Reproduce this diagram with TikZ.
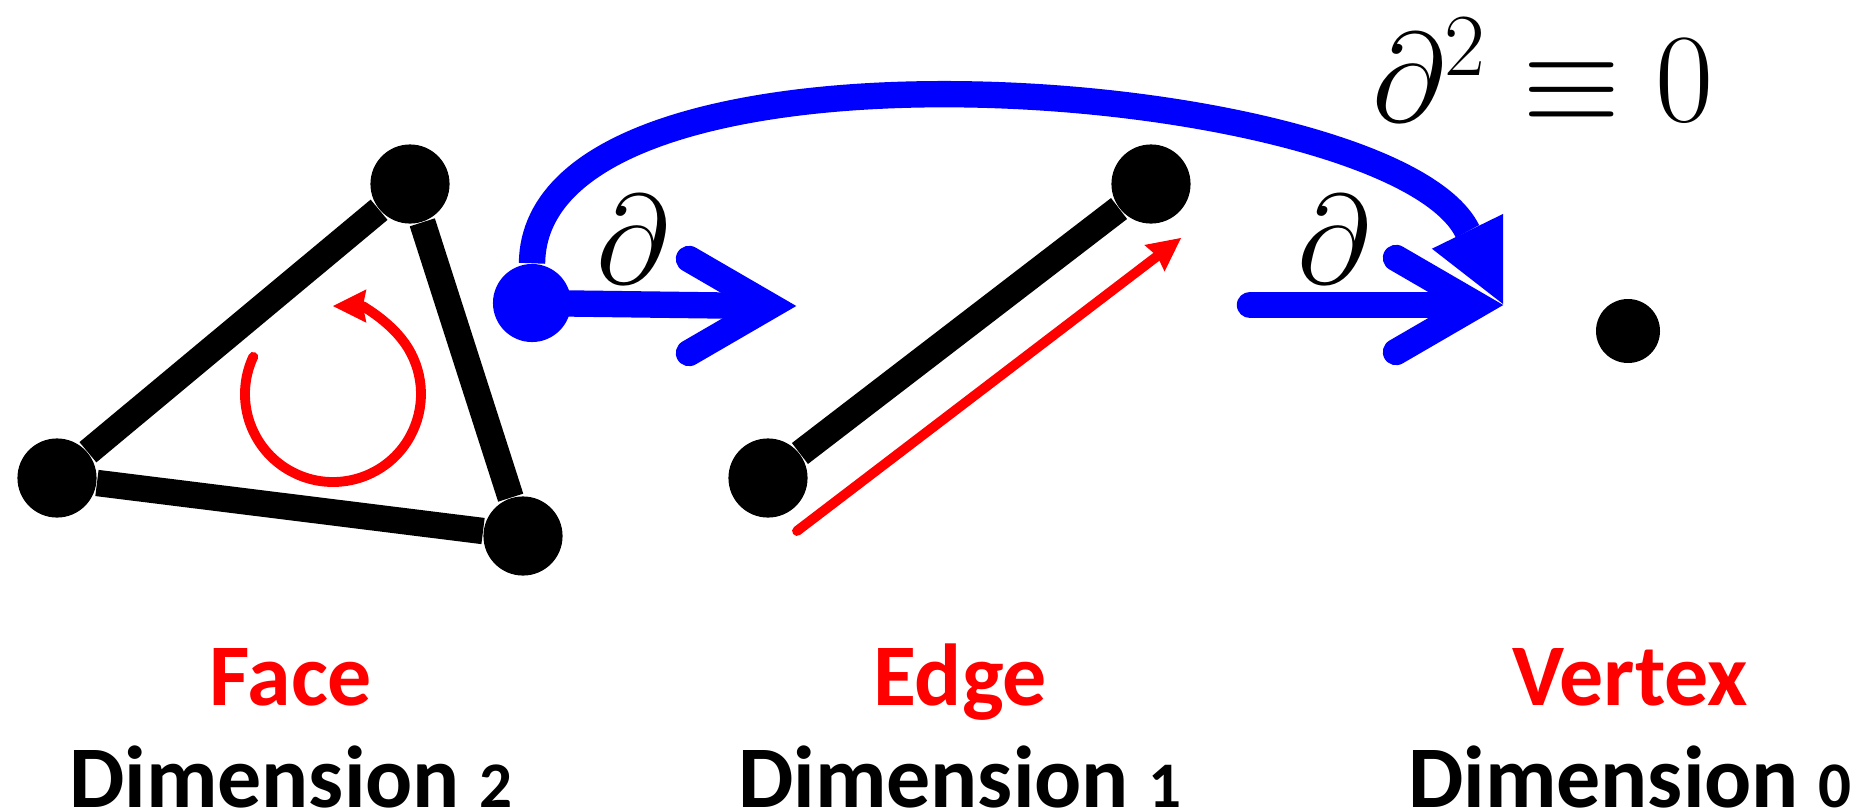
\documentclass[tikz,border=0pt]{standalone}
\usepackage{fix-cm}
\usepackage[no-math]{fontspec}
\usepackage{graphicx}
\usepackage{amsmath}
\usepackage{amssymb}
\usetikzlibrary{arrows.meta, positioning, calc}
\newfontfamily\labelfont{Carlito}
\newcommand{\oldnum}[1]{\scalebox{0.74}{#1}}
\definecolor{cellblack}{RGB}{0, 0, 0}
\definecolor{orientred}{RGB}{255, 0, 0}
\definecolor{boundaryblue}{RGB}{0, 0, 255}

\begin{document}
\begin{tikzpicture}[
    x=0.01cm, y=-0.01cm,
    vertex/.style={circle, fill=cellblack, inner sep=0pt, minimum size=22.5pt},
    cell/.style={line width=7.5pt, cellblack},
    orient/.style={line width=2.8pt, orientred, line cap=round, -{Stealth[length=9.5pt, width=9.5pt, inset=1pt, line width=0pt]}},
    bdry/.style={line width=7.5pt, boundaryblue, line cap=round},
    barbtip/.pic={\draw[bdry, line join=miter] (-81,-47) -- (0,0) -- (-81,47);},
    title/.style={font=\labelfont\bfseries\fontsize{25}{30}\selectfont, text=orientred, anchor=base, inner sep=0pt},
    dimlabel/.style={font=\labelfont\bfseries\fontsize{25}{30}\selectfont, anchor=base, inner sep=0pt},
    mathlabel/.style={font=\fontsize{36}{40}\selectfont, inner sep=0pt}
]
\useasboundingbox (0,0) rectangle (1872,812);

\node[vertex] (ftop) at (410,184) {};
\node[vertex] (fleft) at (57,478) {};
\node[vertex] (fright) at (523,536) {};
\coordinate (fctr) at (333,394);

\node[vertex] (etop) at (1151,184) {};
\node[vertex] (ebot) at (768,478) {};
\coordinate (etail) at (797,531);
\coordinate (ehead) at (1181,238);

\node[vertex, minimum size=18.2pt] (vpt) at (1628,331) {};

\node[circle, fill=boundaryblue, inner sep=0pt, minimum size=22.2pt] (bstart) at (532,303) {};
\coordinate (bhead1) at (770,306);
\coordinate (bstart2) at (1250,305);
\coordinate (bhead2) at (1477,305);
\coordinate (btip2) at (1503,304);

\draw[cell] (fleft) -- (ftop);
\draw[cell] (ftop) -- (fright);
\draw[cell] (fright) -- (fleft);
\draw[cell] (ebot) -- (etop);

\draw[orient] ($(fctr)+(-155:88)$) arc[start angle=-155, end angle=-450, radius=88];
\draw[orient] (etail) -- (ehead);

\draw[bdry] (bstart.center) -- ($(bhead1)+(-10,0)$);
\pic at (bhead1) {barbtip};
\draw[bdry] (bstart2) -- ($(bhead2)+(-10,0)$);
\pic at (bhead2) {barbtip};
\draw[bdry, line cap=butt, -{Triangle[length=23pt, width=22.5pt, line width=0pt]}]
    (bstart.north) .. controls (535,10) and (1392,77) .. (btip2);

\node[mathlabel] (d1) at (633,240) {$\partial$};
\node[mathlabel] (d2) at (1334,240) {$\partial$};
\node[mathlabel, anchor=base] (ddzero) at (1543,121) {$\partial^2\equiv 0$};

\node[title] (face) at (291,705) {Face};
\node[title] (edge) at (960,705) {Edge};
\node[title] (vert) at (1630,705) {Vertex};
\node[dimlabel] (dim2) at (291,807) {Dimension \oldnum{2}};
\node[dimlabel] (dim1) at (960,807) {Dimension \oldnum{1}};
\node[dimlabel] (dim0) at (1630,807) {Dimension \oldnum{0}};

\end{tikzpicture}
\end{document}
